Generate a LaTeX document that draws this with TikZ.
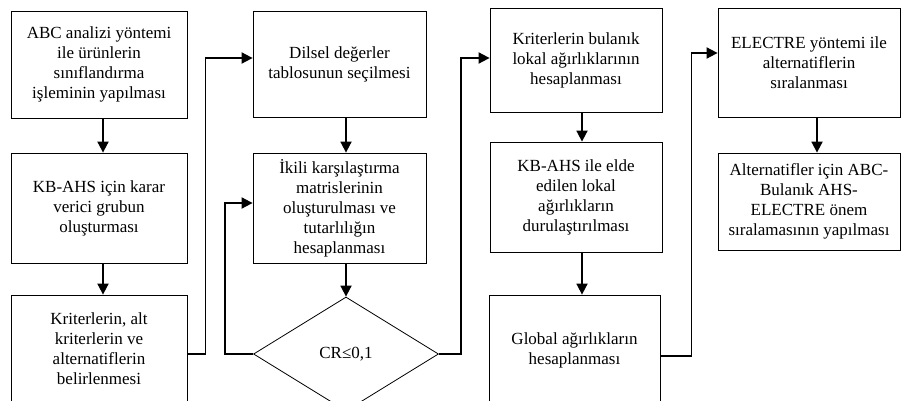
\documentclass[tikz,border=0pt]{standalone}
\usepackage{fontspec}
\setmainfont{Liberation Serif}
\usetikzlibrary{arrows.meta,shapes.geometric}
\begin{document}
\begin{tikzpicture}[x=1pt,y=-1pt,
  box/.style={draw, line width=0.8pt, inner sep=0pt, align=center,
    font=\fontsize{17}{20}\selectfont},
  dbox/.style={draw, diamond, line width=0.8pt, inner sep=0pt,
    minimum width=185pt, minimum height=114pt,
    font=\fontsize{17}{20}\selectfont},
  arr/.style={line width=1.8pt, -{Triangle[length=11pt,width=11pt]}}]
\useasboundingbox (0,0) rectangle (901,401);
\clip (0,0) rectangle (901,401);
% column 1
\node[box, minimum width=176pt, minimum height=107pt] (b11) at (99,64.5)
  {ABC analizi yöntemi\\ile ürünlerin\\sınıflandırma\\işleminin yapılması};
\node[box, minimum width=176pt, minimum height=110pt] (b12) at (99,208)
  {KB-AHS için karar\\verici grubun\\oluşturması};
\node[box, minimum width=176pt, minimum height=108pt] (b13) at (99,349)
  {Kriterlerin, alt\\kriterlerin ve\\alternatiflerin\\belirlenmesi};
% column 2
\node[box, minimum width=173pt, minimum height=106pt] (b21) at (339.5,64)
  {Dilsel değerler\\tablosunun seçilmesi};
\node[box, minimum width=173pt, minimum height=110pt] (b22) at (339.5,208)
  {İkili karşılaştırma\\matrislerinin\\oluşturulması ve\\tutarlılığın\\hesaplanması};
\node[dbox] (dia) at (346,354) {CR≤0,1};
% column 3
\node[box, minimum width=172pt, minimum height=104pt] (b31) at (576,60)
  {Kriterlerin bulanık\\lokal ağırlıklarının\\hesaplanması};
\node[box, minimum width=172pt, minimum height=110pt] (b32) at (576,197)
  {KB-AHS ile elde\\edilen lokal\\ağırlıkların\\durulaştırılması};
\node[box, minimum width=171pt, minimum height=110pt] (b33) at (574.5,350)
  {Global ağırlıkların\\hesaplanması};
% column 4
\node[box, minimum width=182pt, minimum height=109pt] (b41) at (809,62.5)
  {ELECTRE yöntemi ile\\alternatiflerin\\sıralanması};
\node[box, minimum width=182pt, minimum height=97pt] (b42) at (809,201.5)
  {Alternatifler için ABC-\\Bulanık AHS-\\ELECTRE önem\\sıralamasının yapılması};
% vertical arrows
\draw[arr] ([xshift=4pt]b11.south) -- ([xshift=4pt]b12.north);
\draw[arr] ([xshift=4pt]b12.south) -- ([xshift=4pt]b13.north);
\draw[arr] (b21.south -| dia.north) -- (b22.north -| dia.north);
\draw[arr] (b22.south -| dia.north) -- (dia.north);
\draw[arr] ([xshift=6pt]b31.south) -- ([xshift=6pt]b32.north);
\draw[arr] ([xshift=6pt]b32.south) -- ([xshift=6pt]b32.south |- b33.north);
\draw[arr] ([xshift=8pt]b41.south) -- ([xshift=8pt]b42.north);
% connectors between columns
\draw[arr] ([yshift=-5pt]b13.east) -- ++(18,0) |- ([yshift=6pt]b21.west);
\draw[arr] (dia.west) -- ++(-28,0) |- ([yshift=5pt]b22.west);
\draw[arr] (dia.east) -- ++(22,0) |- ([yshift=2pt]b31.west);
\draw[arr] ([yshift=-6pt]b33.east) -- ++(31,0) |- ([yshift=9.5pt]b41.west);
\end{tikzpicture}
\end{document}
